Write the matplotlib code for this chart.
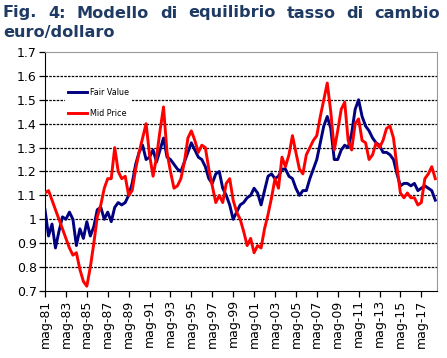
import matplotlib
matplotlib.use("Agg")
import matplotlib.pyplot as plt
import pandas as pd

# values every 4 months, from May 1981
fair_value = [
    1.04, 0.93, 0.98, 0.88, 0.95, 1.01, 1.00, 1.03, 1.00, 0.89,
    0.96, 0.92, 0.99, 0.93, 0.97, 1.04, 1.05, 1.00, 1.03, 0.99,
    1.05, 1.07, 1.06, 1.07, 1.10, 1.15, 1.23, 1.28, 1.31, 1.25,
    1.26, 1.29, 1.24, 1.29, 1.34, 1.26, 1.25, 1.23, 1.21,
    1.20, 1.24, 1.28, 1.32, 1.29, 1.26, 1.25, 1.22, 1.17, 1.15,
    1.19, 1.20, 1.13, 1.10, 1.06, 1.00, 1.03, 1.06, 1.07, 1.09,
    1.10, 1.13, 1.11, 1.06, 1.12, 1.18, 1.19, 1.17, 1.18, 1.21,
    1.21, 1.18, 1.17, 1.13, 1.10, 1.12,
    1.12, 1.17, 1.21, 1.25, 1.32, 1.39, 1.43, 1.38, 1.25, 1.25,
    1.29, 1.31, 1.30, 1.36, 1.46, 1.50, 1.43, 1.39, 1.37, 1.34,
    1.32, 1.31, 1.28, 1.28, 1.27, 1.25, 1.19, 1.14, 1.15, 1.15,
    1.14, 1.15, 1.12, 1.13, 1.14, 1.13, 1.12, 1.08,
]
mid_price = [
    1.11, 1.12, 1.08, 1.04, 1.00, 0.96, 0.92, 0.88, 0.85, 0.86,
    0.79, 0.74, 0.72, 0.80, 0.90, 1.01, 1.06, 1.13, 1.17, 1.17,
    1.30, 1.20, 1.17, 1.18, 1.10, 1.12, 1.21, 1.28, 1.34, 1.40,
    1.27, 1.18, 1.26, 1.37, 1.47, 1.28, 1.20, 1.13, 1.14,
    1.17, 1.24, 1.34, 1.37, 1.33, 1.28, 1.31, 1.30, 1.21, 1.14,
    1.07, 1.10, 1.07, 1.15, 1.17, 1.08, 1.03, 1.00, 0.95, 0.89,
    0.92, 0.86, 0.89, 0.88, 0.96, 1.02, 1.09, 1.17, 1.13, 1.26,
    1.22, 1.27, 1.35, 1.28, 1.21, 1.19,
    1.27, 1.30, 1.33, 1.35, 1.43, 1.50, 1.57, 1.45, 1.29, 1.37,
    1.46, 1.49, 1.33, 1.29, 1.40, 1.42, 1.33, 1.32, 1.25, 1.27,
    1.32, 1.30, 1.33, 1.38, 1.39, 1.34, 1.22, 1.11, 1.09, 1.11,
    1.09, 1.09, 1.06, 1.07, 1.17, 1.19, 1.22, 1.17,
]
dates = pd.date_range("1981-05-01", periods=len(fair_value), freq="4MS")

tick_years = list(range(1981, 2018, 2))
tick_labels = ["mag-%02d" % (y % 100) for y in tick_years]
y_ticks = [0.7, 0.8, 0.9, 1.0, 1.1, 1.2, 1.3, 1.4, 1.5, 1.6, 1.7]

title_line1 = "Fig. 4: Modello di equilibrio tasso di cambio"
title_line2 = "euro/dollaro"
title_color = "#1F3B64"

fig = plt.figure(figsize=(4.47, 3.58), dpi=100)
ax = fig.add_axes([0.1007, 0.1872, 0.8770, 0.6676])

ax.plot(dates, fair_value, color="#000080", lw=2.1, label="Fair Value", zorder=3)
ax.plot(dates, mid_price, color="#FF0000", lw=2.1, label="Mid Price", zorder=4)

ax.set_ylim(0.7, 1.7)
ax.set_yticks(y_ticks)
ax.set_yticklabels(["%g" % v for v in y_ticks])
ax.set_xlim(pd.Timestamp("1981-05-01"), pd.Timestamp("2018-11-01"))
ax.set_xticks([pd.Timestamp("%d-05-01" % y) for y in tick_years])
ax.set_xticklabels(tick_labels, rotation=90)

for v in y_ticks[1:-1]:
    ax.axhline(v, color="black", lw=0.9, ls=(0, (2, 1)), zorder=1)

for lab in ax.get_xticklabels() + ax.get_yticklabels():
    lab.set_family(["Liberation Sans Narrow", "DejaVu Sans"])
    lab.set_fontsize(9)
ax.tick_params(axis="both", direction="out", length=4, width=0.9, pad=2)

ax.spines["left"].set_color("black")
ax.spines["bottom"].set_color("black")
ax.spines["top"].set_color("#999999")
ax.spines["right"].set_color("#999999")

leg = ax.legend(loc="upper left", bbox_to_anchor=(0.04, 0.88), fontsize=5.8,
                frameon=True, fancybox=False, edgecolor="none", framealpha=1,
                handlelength=2.4, handletextpad=0.3, labelspacing=1.5,
                borderpad=0.4)
for t in leg.get_texts():
    t.set_family(["Liberation Sans Narrow", "DejaVu Sans"])

# title: size chosen so the first line fills the width, then justified
renderer = fig.canvas.get_renderer()
left_px, right_px = 3, 440
probe = fig.text(0, 0, title_line1.replace(" ", "  "), fontsize=10,
                 fontweight="bold", family="DejaVu Sans")
title_size = 10 * (right_px - left_px) / probe.get_window_extent(renderer).width
probe.remove()

words = title_line1.split()
widths = []
items = []
for w in words:
    t = fig.text(0, 0, w, fontsize=title_size, fontweight="bold",
                 color=title_color, family="DejaVu Sans", va="center")
    widths.append(t.get_window_extent(renderer).width)
    items.append(t)
gap = (right_px - left_px - sum(widths)) / (len(words) - 1)
x = left_px
for t, w in zip(items, widths):
    t.set_position((x / 447, 1 - 13 / 358))
    x += w + gap
fig.text(left_px / 447, 1 - 32 / 358, title_line2, fontsize=title_size,
         fontweight="bold", color=title_color, family="DejaVu Sans", va="center")

fig.savefig("out.png", dpi=100)
